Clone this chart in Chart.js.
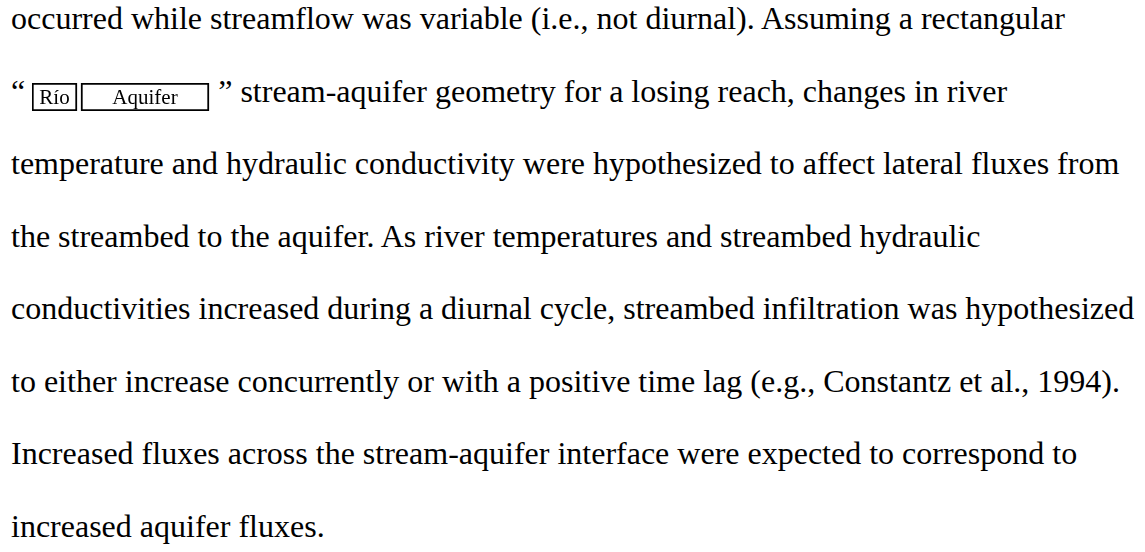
<!DOCTYPE html>
<html>
<head>
<meta charset="utf-8">
<script src="https://cdn.jsdelivr.net/npm/chart.js@4/dist/chart.umd.min.js"></script>
<style>
    html, body { margin: 0; padding: 0; background: #fff; }
    body { width: 1145px; height: 552px; overflow: hidden; position: relative; }
    #texto {
        position: absolute; left: 11px; top: -18px;
        font-family: 'Liberation Serif', 'Times New Roman', serif;
        font-size: 32px; line-height: 72.5px; color: #000;
        white-space: nowrap;
    }
    .linha { height: 72.5px; }
    #caixaGrafico {
        display: inline-block; position: relative; margin-left: -1px;
        width: 178px; height: 28px; vertical-align: -9px;
    }
</style>
</head>
<body>
<div id="texto">
    <div class="linha">occurred while streamflow was variable (i.e., not diurnal). Assuming a rectangular</div>
    <div class="linha">“ <div id="caixaGrafico"><canvas id="geometriaChart"></canvas></div> ” stream-aquifer geometry for a losing reach, changes in river</div>
    <div class="linha">temperature and hydraulic conductivity were hypothesized to affect lateral fluxes from</div>
    <div class="linha">the streambed to the aquifer. As river temperatures and streambed hydraulic</div>
    <div class="linha">conductivities increased during a diurnal cycle, streambed infiltration was hypothesized</div>
    <div class="linha">to either increase concurrently or with a positive time lag (e.g., Constantz et al., 1994).</div>
    <div class="linha">Increased fluxes across the stream-aquifer interface were expected to correspond to</div>
    <div class="linha">increased aquifer fluxes.</div>
</div>
<script>
// --- Dados do esquema "Río | Aquifer" (extensão de cada caixa, em unidades da figura) ---
const categorias = ['geometria'];
const nomesCaixas = ['Río', 'Aquifer'];
const rioSpan = [0, 45];
const aquiferSpan = [49, 177];
const escalaMax = 178;

// Desenha o nome de cada caixa no centro da barra
const rotulosPlugin = {
    id: 'rotulosCaixas',
    afterDatasetsDraw(chart) {
        const ctx = chart.ctx;
        ctx.save();
        ctx.font = "21px 'Liberation Serif', 'Times New Roman', serif";
        ctx.fillStyle = '#000';
        ctx.textAlign = 'center';
        ctx.textBaseline = 'alphabetic';
        chart.data.datasets.forEach((ds, i) => {
            chart.getDatasetMeta(i).data.forEach(bar => {
                const p = bar.getCenterPoint();
                ctx.fillText(ds.label, p.x, p.y + 7);
            });
        });
        ctx.restore();
    }
};

const canvas = document.getElementById('geometriaChart');
new Chart(canvas.getContext('2d'), {
    type: 'bar',
    data: {
        labels: categorias,
        datasets: [
            { label: nomesCaixas[0], data: [rioSpan] },
            { label: nomesCaixas[1], data: [aquiferSpan] }
        ].map(ds => ({
            ...ds,
            backgroundColor: '#fff',
            borderColor: '#000',
            borderWidth: 2,
            borderSkipped: false,
            barPercentage: 1,
            categoryPercentage: 1,
            grouped: false
        }))
    },
    options: {
        indexAxis: 'y',
        responsive: true,
        maintainAspectRatio: false,
        animation: false,
        events: [],
        layout: { padding: 0 },
        plugins: { legend: { display: false }, tooltip: { enabled: false } },
        scales: {
            x: { display: false, min: 0, max: escalaMax },
            y: { display: false }
        }
    },
    plugins: [rotulosPlugin]
});
</script>
</body>
</html>
